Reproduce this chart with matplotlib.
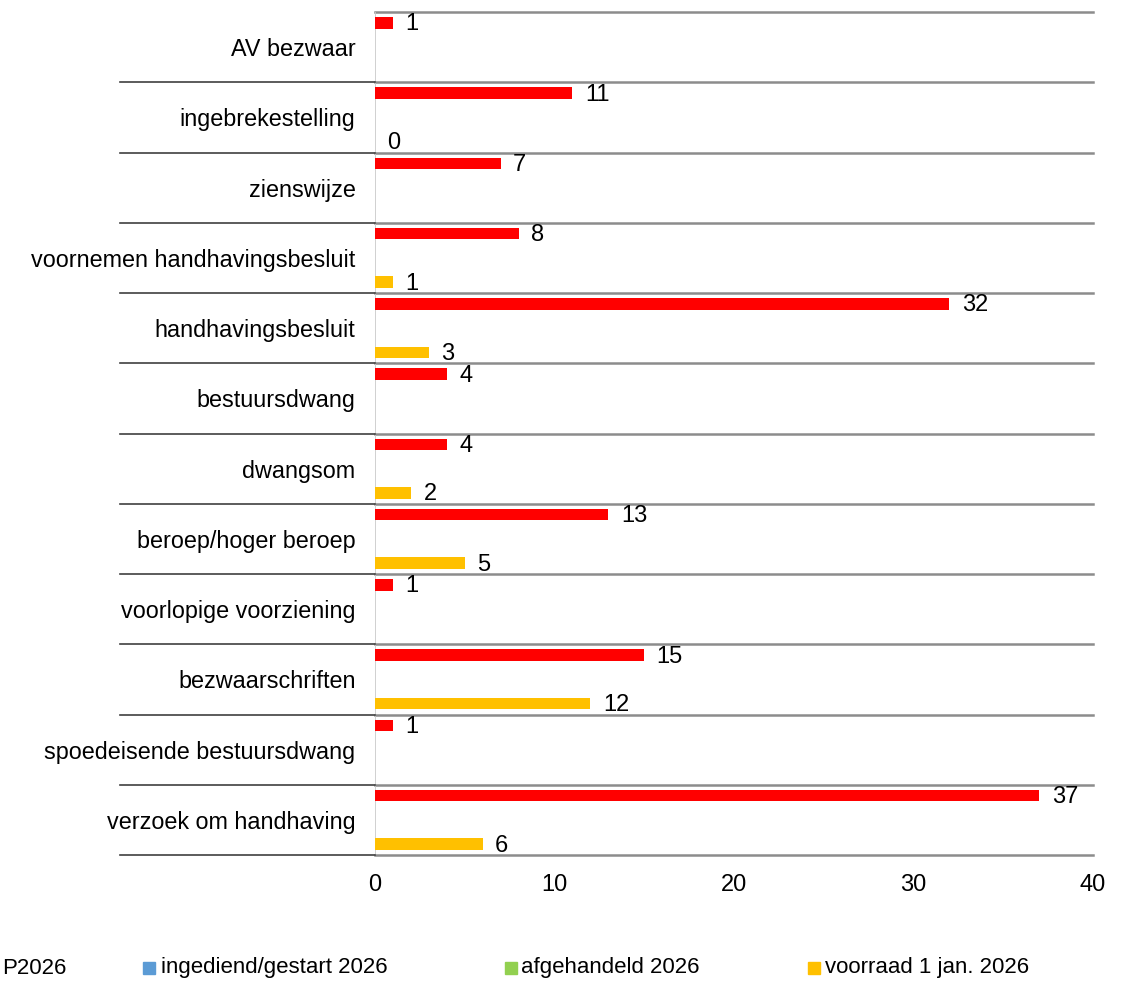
import matplotlib.pyplot as plt
import numpy as np

plt.rcParams['font.family'] = ['Liberation Sans', 'DejaVu Sans']

# categorieën (van boven naar beneden)
categories = ['AV bezwaar', 'ingebrekestelling', 'zienswijze',
              'voornemen handhavingsbesluit', 'handhavingsbesluit',
              'bestuursdwang', 'dwangsom', 'beroep/hoger beroep',
              'voorlopige voorziening', 'bezwaarschriften',
              'spoedeisende bestuursdwang', 'verzoek om handhaving']

nan = np.nan
red_vals = [1, 11, 7, 8, 32, 4, 4, 13, 1, 15, 1, 37]
blue_vals = [nan] * 12
green_vals = [nan] * 12
yellow_vals = [nan, 0, nan, 1, 3, nan, 2, 5, nan, 12, nan, 6]

series = [
    ('P2026', red_vals, '#FF0000'),
    ('ingediend/gestart 2026', blue_vals, '#5B9BD5'),
    ('afgehandeld 2026', green_vals, '#92D050'),
    ('voorraad 1 jan. 2026', yellow_vals, '#FFC000'),
]
xticks = [0, 10, 20, 30, 40]

W, H = 1128, 985
fig = plt.figure(figsize=(W / 100, H / 100), dpi=100)
ax = fig.add_axes([375 / W, 1 - 855 / H, (1093 - 375) / W, (855 - 12) / H])

y = np.arange(len(categories))
offsets = [-0.345, -0.115, 0.115, 0.345]
for (name, vals, col), off in zip(series, offsets):
    vals = np.array(vals, dtype=float)
    ax.barh(y + off, np.nan_to_num(vals), height=0.165, color=col, zorder=3)
    for yi, v in zip(y, vals):
        if not np.isnan(v):
            ax.annotate(f'{int(v)}', (v, yi + off), xytext=(9, -1),
                        textcoords='offset points', va='center', ha='left',
                        fontsize=17)

ax.set_xlim(0, 40)
ax.set_ylim(len(categories) - 0.5, -0.5)
ax.set_xticks(xticks)
ax.set_xticklabels([str(t) for t in xticks], fontsize=17)
ax.set_yticks(y)
ax.set_yticklabels(categories, fontsize=16.8)
ax.tick_params(axis='both', length=0)
ax.tick_params(axis='y', pad=14)
ax.tick_params(axis='x', pad=14)
for s in ax.spines.values():
    s.set_visible(False)
ax.axvline(0, color='#C8C8C8', lw=1.2, zorder=2)

# scheidingslijnen
bounds = np.arange(-0.5, len(categories), 1.0)
for b in bounds:
    ax.plot([0, 40], [b, b], color='#8C8C8C', lw=1.8, zorder=1, clip_on=False)
for b in bounds[1:]:
    ax.plot([-14.2, 0], [b, b], color='#404040', lw=1.2, clip_on=False)

# legenda
leg_y = 1 - 968 / H
legend_pos = [(None, 66), (143, 161), (505, 521), (808, 825)]
for (name, vals, col), (sx, tx) in zip(series, legend_pos):
    if sx is None:
        fig.text(tx / W, leg_y, name, ha='right', va='center', fontsize=16)
        continue
    fig.patches.append(plt.Rectangle((sx / W, 1 - 974 / H), 12 / W, 12 / H,
                                     transform=fig.transFigure, color=col))
    fig.text(tx / W, leg_y, name, ha='left', va='center', fontsize=16)

fig.savefig('out.png', dpi=100)
